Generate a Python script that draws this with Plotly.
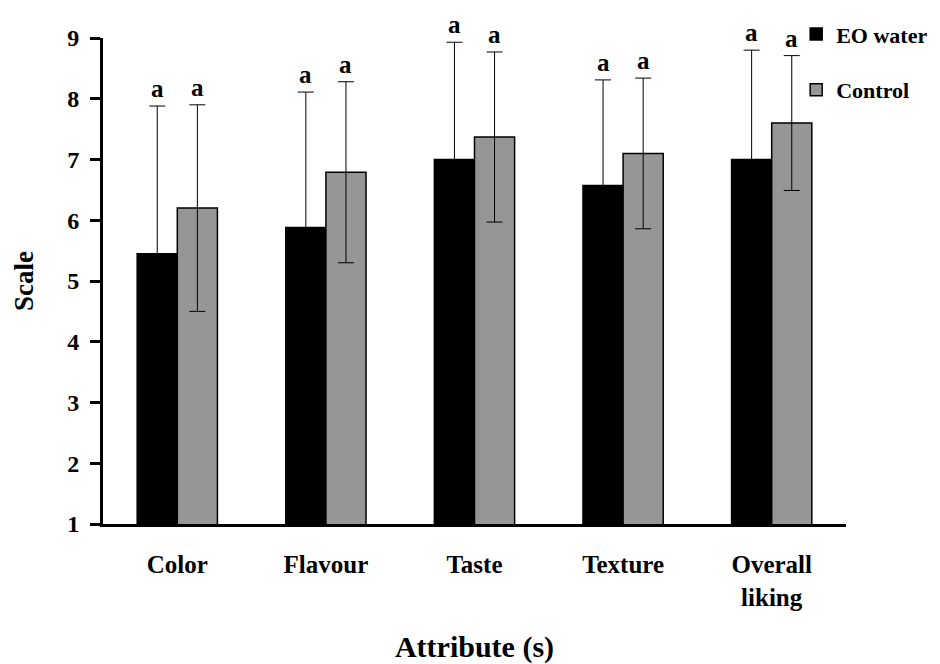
import plotly.graph_objects as go

# Sensory scores (mean ± SD) per attribute
attributes = ["Color", "Flavour", "Taste", "Texture", "Overall<br>liking"]
eo_mean = [5.45, 5.88, 7.00, 6.57, 7.00]
eo_sd = [2.43, 2.23, 1.93, 1.74, 1.80]
ctrl_mean = [6.20, 6.79, 7.37, 7.10, 7.60]
ctrl_sd = [1.70, 1.49, 1.40, 1.24, 1.11]
eo_letters = ["a", "a", "a", "a", "a"]
ctrl_letters = ["a", "a", "a", "a", "a"]

FONT = "Liberation Serif"
BARGAP = 0.46
half = (1 - BARGAP) / 4  # offset of each bar centre from its category centre

fig = go.Figure()
fig.add_trace(go.Bar(
    name="<b>EO water</b>", x=attributes, y=eo_mean,
    marker=dict(color="#000000", line=dict(color="#000000", width=1.5)),
    error_y=dict(type="data", array=eo_sd, color="#000000", thickness=1, width=8),
    legendgroup="eo",
))
fig.add_trace(go.Bar(
    name="<b>Control</b>", x=attributes, y=ctrl_mean,
    marker=dict(color="#969696", line=dict(color="#000000", width=1.5)),
    error_y=dict(type="data", array=ctrl_sd, color="#000000", thickness=1, width=8),
    legendgroup="ctrl",
))

# significance letters above each error bar
for i in range(len(attributes)):
    for m, s, lab, off in ((eo_mean[i], eo_sd[i], eo_letters[i], -half),
                           (ctrl_mean[i], ctrl_sd[i], ctrl_letters[i], half)):
        fig.add_annotation(x=i + off, y=m + s, text="<b>%s</b>" % lab,
                           showarrow=False, yanchor="bottom", yshift=2,
                           font=dict(family=FONT, size=25, color="#000000"))

fig.update_layout(
    width=940, height=664,
    margin=dict(l=103, r=94, t=38, b=140, autoexpand=False),
    barmode="group", bargap=BARGAP, bargroupgap=0,
    plot_bgcolor="white", paper_bgcolor="white",
    font=dict(family=FONT, size=25, color="#000000"),
    legend=dict(xref="container", yref="container", x=0.847, y=0.98,
                xanchor="left", yanchor="top",
                font=dict(family=FONT, size=22), tracegroupgap=24,
                bgcolor="rgba(0,0,0,0)"),
    xaxis=dict(
        showline=True, linecolor="#000000", linewidth=3, ticks="",
        tickfont=dict(family=FONT, size=25), ticklabelstandoff=16,
        title=dict(text="<b>Attribute (s)</b>", font=dict(family=FONT, size=30), standoff=28),
        tickprefix="<b>", ticksuffix="</b>",
    ),
    yaxis=dict(
        range=[1, 9], dtick=1, showline=True, linecolor="#000000", linewidth=3,
        ticks="outside", ticklen=10, tickwidth=3, tickcolor="#000000",
        showgrid=False, zeroline=False,
        tickfont=dict(family=FONT, size=24), ticklabelstandoff=6,
        tickprefix="<b>", ticksuffix="</b>",
        title=dict(text="<b>Scale</b>", font=dict(family=FONT, size=27), standoff=26),
    ),
)

fig.write_html("out.html")
